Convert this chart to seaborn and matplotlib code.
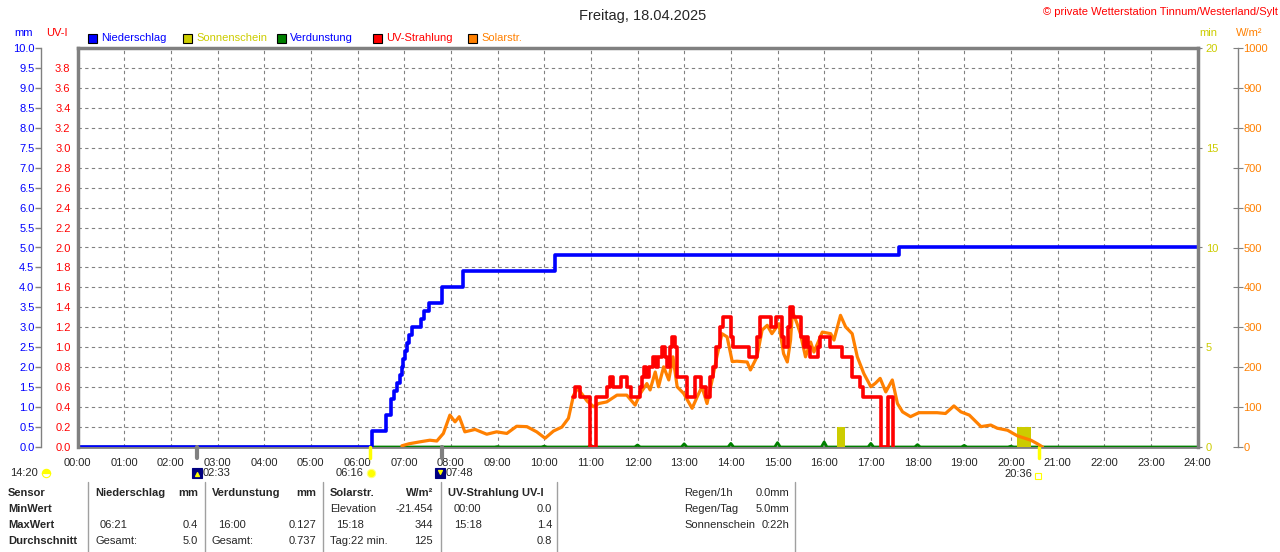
import numpy as np
import seaborn as sns
import matplotlib.pyplot as plt
from matplotlib.lines import Line2D
from matplotlib.patches import Rectangle

# --- Daten (Stunden als Dezimalzahl) ---
rain_t = [0.0, 6.32, 6.61, 6.71, 6.78, 6.85, 6.91, 6.95, 6.98, 7.02, 7.07, 7.11,
          7.16, 7.37, 7.43, 7.54, 7.80, 8.27, 10.24, 17.60, 24.0]
rain_mm = [0.0, 0.4, 0.8, 1.2, 1.4, 1.6, 1.8, 2.0, 2.2, 2.4, 2.6, 2.8,
           3.0, 3.2, 3.4, 3.6, 4.0, 4.4, 4.8, 5.0, 5.0]

sol_t = [6.95, 7.10, 7.34, 7.55, 7.70, 7.84, 7.98, 8.09, 8.18, 8.30, 8.52, 8.77,
         8.98, 9.20, 9.41, 9.63, 9.84, 10.02, 10.20, 10.38, 10.52, 10.63, 10.72,
         10.92, 11.06, 11.17, 11.34, 11.56, 11.77, 11.95, 12.06, 12.20, 12.27,
         12.38, 12.45, 12.56, 12.67, 12.76, 12.85, 12.99, 13.17, 13.28, 13.38,
         13.49, 13.60, 13.70, 13.81, 13.92, 14.03, 14.13, 14.35, 14.42, 14.56,
         14.67, 14.78, 14.88, 15.03, 15.13, 15.21, 15.28, 15.32, 15.42, 15.49,
         15.60, 15.71, 15.78, 15.89, 15.96, 16.14, 16.21, 16.35, 16.46, 16.60,
         16.71, 16.85, 17.00, 17.10, 17.20, 17.32, 17.46, 17.57, 17.68, 17.85,
         18.03, 18.42, 18.60, 18.78, 18.93, 19.11, 19.36, 19.57, 19.71, 19.93,
         20.14, 20.43, 20.57, 20.68]
sol_w = [3, 8, 13, 17, 15, 34, 80, 63, 76, 38, 44, 32,
         38, 34, 52, 51, 38, 22, 40, 50, 72, 130, 147,
         115, 101, 109, 113, 130, 130, 105, 134, 159, 143,
         188, 151, 201, 168, 226, 151, 134, 97, 126, 151,
         109, 168, 226, 284, 276, 214, 215, 213, 193, 226,
         293, 305, 284, 309, 234, 213, 268, 340, 309, 284,
         226, 263, 238, 268, 288, 284, 268, 330, 301, 284,
         226, 184, 151, 160, 172, 138, 168, 109, 88, 76,
         86, 86, 84, 103, 88, 80, 51, 55, 47, 42,
         28, 17, 8, 0]

uv_t = [10.61, 10.66, 10.77, 10.98, 11.10, 11.34, 11.42, 11.47,
        11.65, 11.78, 11.85, 12.06, 12.09, 12.13, 12.18, 12.25, 12.33, 12.40,
        12.45, 12.52, 12.58, 12.64, 12.70, 12.74, 12.80, 12.85, 13.06, 13.24,
        13.35, 13.42, 13.47, 13.55, 13.62, 13.68, 13.76, 13.84, 14.00, 14.05,
        14.38, 14.57, 14.63, 14.86, 14.96, 15.10, 15.14, 15.22, 15.27, 15.34,
        15.50, 15.57, 15.62, 15.66, 15.70, 15.87, 15.91, 16.12, 16.38, 16.60,
        16.76, 16.83, 17.21, 17.36, 17.47]
uv_i = [0.5, 0.6, 0.5, 0.0, 0.5, 0.6, 0.7, 0.6,
        0.7, 0.6, 0.5, 0.6, 0.7, 0.8, 0.7, 0.8, 0.9, 0.8,
        0.9, 1.0, 0.9, 0.8, 1.0, 1.1, 1.0, 0.7, 0.5, 0.7,
        0.6, 0.6, 0.5, 0.7, 0.8, 1.0, 1.2, 1.3, 1.1, 1.0,
        0.9, 1.1, 1.3, 1.2, 1.3, 1.1, 1.0, 1.2, 1.4, 1.3,
        1.1, 1.0, 1.1, 1.0, 0.9, 1.0, 1.1, 1.0, 0.9, 0.7,
        0.6, 0.5, 0.0, 0.5, 0.0]

sun_start = [16.27, 20.13]
sun_end = [16.44, 20.44]
sun_min = [1.0, 1.0]

evap_h = [9, 10, 11, 12, 13, 14, 15, 16, 17, 18, 19, 20]
evap_mm = [0.01, 0.02, 0.04, 0.05, 0.08, 0.09, 0.11, 0.127, 0.09, 0.06, 0.04, 0.02]

hour_labels = [f"{h:02d}:00" for h in range(25)]

# Sonne / Mond
moonset, sunrise, moonrise, sunset = 2.55, 6.27, 7.80, 20.60

BLUE, RED, ORANGE, GREEN, SUN = "#0000ff", "#ff0000", "#ff8000", "#008000", "#cccc00"
GRAY = "#808080"

sns.set_style("white")
plt.rcParams['font.family'] = ['Liberation Sans', 'DejaVu Sans']
plt.rcParams['font.size'] = 8

W, H = 1280, 552
def fx(px):
    return px / W
def fy(py):
    return 1 - py / H

fig = plt.figure(figsize=(12.8, 5.52), dpi=100)
ax = fig.add_axes([fx(77.5), fy(447), (1197.5 - 77.5) / W, 399 / H])
ax_sun = ax.twinx()
ax_sol = ax.twinx()
ax_uv = ax.twinx()

# Verdunstung als kleine Spitzen auf der Grundlinie
ev_x, ev_y = [0.0], [0.0]
for h, v in zip(evap_h, evap_mm):
    ev_x += [h - 0.06, h, h + 0.06]
    ev_y += [0.0, v, 0.0]
ev_x.append(24.0)
ev_y.append(0.0)
sns.lineplot(x=ev_x, y=ev_y, ax=ax, color=GREEN, lw=2, legend=False, sort=False, zorder=3)
sns.lineplot(x=rain_t, y=rain_mm, ax=ax, color=BLUE, lw=2.6, drawstyle='steps-post',
             legend=False, zorder=5)

ax_sun.bar(sun_start, sun_min, width=np.array(sun_end) - np.array(sun_start),
           align='edge', color=SUN, linewidth=0)
sns.lineplot(x=sol_t, y=sol_w, ax=ax_sol, color=ORANGE, lw=2.3, legend=False)
sns.lineplot(x=uv_t, y=uv_i, ax=ax_uv, color=RED, lw=2.6, drawstyle='steps-post', legend=False)

for a in (ax, ax_sun, ax_sol, ax_uv):
    a.set_xlim(0, 24)
    a.set_xlabel("")
    a.set_ylabel("")
    for s in a.spines.values():
        s.set_visible(False)

ax.set_ylim(0, 10)
ax.set_yticks(np.arange(0, 10.01, 0.5))
ax.set_yticklabels([f"{v:.1f}" for v in np.arange(0, 10.01, 0.5)])
ax.set_xticks(range(25))
ax.set_xticklabels(hour_labels)
ax.grid(True, color=GRAY, ls=(0, (3, 3)), lw=0.8)
ax.set_axisbelow(True)
ax.spines['left'].set_visible(True)
ax.spines['left'].set_position(('outward', 26))
ax.spines['left'].set_color(GRAY)
ax.spines['left'].set_linewidth(1)
ax.spines['top'].set_visible(True)
ax.spines['top'].set_color(GRAY)
ax.spines['top'].set_linewidth(2.5)
ax.spines['bottom'].set_visible(True)
ax.spines['bottom'].set_color(GRAY)
ax.spines['bottom'].set_linewidth(2)
ax.tick_params(axis='y', labelcolor=BLUE, color=GRAY, length=4, width=1, pad=1, labelsize=8)
ax.tick_params(axis='x', length=0, pad=8, labelsize=8)

ax_uv.set_ylim(0, 4)
ax_uv.yaxis.tick_left()
ax_uv.yaxis.set_label_position('left')
ax_uv.set_yticks(np.arange(0, 3.81, 0.2))
ax_uv.set_yticklabels([f"{v:.1f}" for v in np.arange(0, 3.81, 0.2)])
ax_uv.spines['left'].set_visible(True)
ax_uv.spines['left'].set_color(GRAY)
ax_uv.spines['left'].set_linewidth(2.5)
ax_uv.tick_params(axis='y', length=0, pad=5, labelcolor=RED, labelsize=8)

ax_sun.set_ylim(0, 20)
ax_sun.set_yticks([0, 5, 10, 15, 20])
ax_sun.spines['right'].set_visible(True)
ax_sun.spines['right'].set_color(GRAY)
ax_sun.spines['right'].set_linewidth(2.5)
ax_sun.tick_params(axis='y', length=3, color=GRAY, pad=3, labelcolor=SUN, labelsize=8)

ax_sol.set_ylim(0, 1000)
ax_sol.set_yticks(range(0, 1001, 100))
ax_sol.spines['right'].set_visible(True)
ax_sol.spines['right'].set_position(('outward', 29.5))
ax_sol.spines['right'].set_color(GRAY)
ax_sol.spines['right'].set_linewidth(1)
ax_sol.tick_params(axis='y', direction='inout', length=7, color=GRAY, pad=0,
                   labelcolor=ORANGE, labelsize=8)

# Markierungen unter der Zeitachse
xt = ax.get_xaxis_transform()
for t, c, lw in [(moonset, GRAY, 3), (moonrise, GRAY, 3), (sunrise, "#ffff00", 2.5), (sunset, "#ffff00", 2.5)]:
    ax.plot([t, t], [0, -0.028], transform=xt, color=c, lw=lw, clip_on=False, zorder=10)

def icon(px, py, marker, face, edge=None, size=7, fill='full'):
    fig.add_artist(Line2D([fx(px)], [fy(py)], transform=fig.transFigure, marker=marker,
                          markersize=size, markerfacecolor=face, fillstyle=fill,
                          markeredgecolor=edge or face, markeredgewidth=0.8, linestyle='none'))

fig.text(fx(10), fy(473), "14:20", va='center', fontsize=8)
icon(46, 473, 'o', "#ffff00", size=6, fill='top')
icon(197, 473, 's', "#000080", size=7)
icon(197, 474, '^', "#ffff00", size=3)
fig.text(fx(203), fy(473), "02:33", va='center', fontsize=8)
fig.text(fx(363), fy(473), "06:16", va='center', ha='right', fontsize=8)
icon(371, 473, 'o', "#ffff00", edge="#ffff80", size=6)
icon(440, 473, 's', "#000080", size=7)
icon(440, 472, 'v', "#ffff00", size=3)
fig.text(fx(446), fy(473), "07:48", va='center', fontsize=8)
fig.text(fx(1032), fy(474), "20:36", va='center', ha='right', fontsize=8)
icon(1038, 476, 's', 'none', edge="#ffff00", size=4, fill='none')

# Kopfzeile
fig.text(fx(643), fy(16), "Freitag, 18.04.2025", ha='center', va='center', fontsize=10.5)
fig.text(fx(1278), fy(12), "© private Wetterstation Tinnum/Westerland/Sylt", ha='right',
         va='center', color=RED, fontsize=8)
fig.text(fx(14), fy(33), "mm", color=BLUE, va='center', fontsize=8)
fig.text(fx(46), fy(33), "UV-I", color=RED, va='center', fontsize=8)
fig.text(fx(1199), fy(33), "min", color=SUN, va='center', fontsize=8)
fig.text(fx(1236), fy(33), "W/m²", color=ORANGE, va='center', fontsize=8)

legend_items = [("Niederschlag", BLUE, BLUE, 88), ("Sonnenschein", SUN, SUN, 183),
                ("Verdunstung", GREEN, BLUE, 277), ("UV-Strahlung", RED, RED, 373),
                ("Solarstr.", ORANGE, ORANGE, 468)]
for name, box_c, txt_c, px in legend_items:
    fig.add_artist(Rectangle((fx(px), fy(43)), 9 / W, 9 / H, transform=fig.transFigure,
                             facecolor=box_c, edgecolor='black', lw=0.8))
    fig.text(fx(px + 13), fy(38), name, color=txt_c, va='center', fontsize=8)

# Tabelle unten
rows_y = [493, 509, 525, 541]
for x in [88, 205, 323, 441, 557, 795]:
    fig.add_artist(Line2D([fx(x), fx(x)], [fy(482), fy(552)], transform=fig.transFigure,
                          color="#a0a0a0", lw=1))

table = [
    (8, 0, "Sensor", 'left', True), (8, 1, "MinWert", 'left', True),
    (8, 2, "MaxWert", 'left', True), (8, 3, "Durchschnitt", 'left', True),
    (95, 0, "Niederschlag", 'left', True), (198, 0, "mm", 'right', True),
    (100, 2, "06:21", 'left', False), (198, 2, "0.4", 'right', False),
    (95, 3, "Gesamt:", 'left', False), (198, 3, "5.0", 'right', False),
    (212, 0, "Verdunstung", 'left', True), (316, 0, "mm", 'right', True),
    (218, 2, "16:00", 'left', False), (316, 2, "0.127", 'right', False),
    (212, 3, "Gesamt:", 'left', False), (316, 3, "0.737", 'right', False),
    (330, 0, "Solarstr.", 'left', True), (433, 0, "W/m²", 'right', True),
    (330, 1, "Elevation", 'left', False), (433, 1, "-21.454", 'right', False),
    (336, 2, "15:18", 'left', False), (433, 2, "344", 'right', False),
    (330, 3, "Tag:22 min.", 'left', False), (433, 3, "125", 'right', False),
    (448, 0, "UV-Strahlung UV-I", 'left', True),
    (454, 1, "00:00", 'left', False), (552, 1, "0.0", 'right', False),
    (454, 2, "15:18", 'left', False), (552, 2, "1.4", 'right', False),
    (552, 3, "0.8", 'right', False),
    (684, 0, "Regen/1h", 'left', False), (789, 0, "0.0mm", 'right', False),
    (684, 1, "Regen/Tag", 'left', False), (789, 1, "5.0mm", 'right', False),
    (684, 2, "Sonnenschein", 'left', False), (789, 2, "0:22h", 'right', False),
]
for px, r, txt, ha, bold in table:
    fig.text(fx(px), fy(rows_y[r]), txt, ha=ha, va='center', fontsize=8,
             fontweight='bold' if bold else 'normal')

fig.savefig("out.png", dpi=100)
